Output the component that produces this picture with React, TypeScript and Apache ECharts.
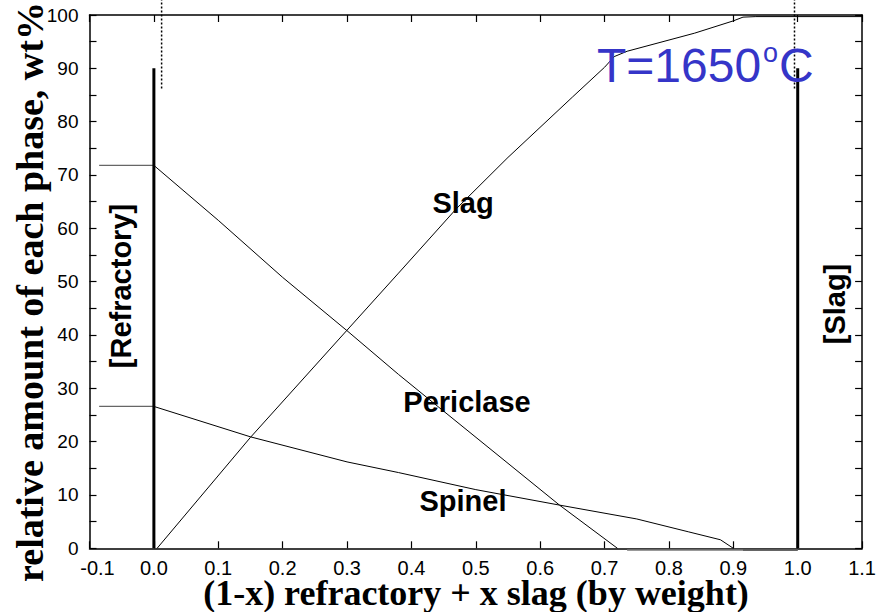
import React, { useEffect, useRef } from "react";
import * as echarts from "echarts";

// ---- data ----
const slagX = [0.005, 0.15, 0.3, 0.38, 0.47, 0.55, 0.65, 0.7, 0.715, 0.735, 0.84, 0.9, 0.915, 0.935, 1.1];
const slagY = [0, 20.8, 40.9, 51.6, 63.7, 73.3, 84.6, 90.2, 92.2, 93.2, 96.6, 98.9, 99.6, 99.7, 99.7];

const periclaseX = [0, 0.1, 0.2, 0.3, 0.38, 0.44, 0.63, 0.72];
const periclaseY = [71.8, 61.5, 50.8, 40.8, 32.6, 26.7, 8.1, 0];

const spinelX = [0, 0.15, 0.3, 0.38, 0.5, 0.63, 0.75, 0.83, 0.88, 0.9];
const spinelY = [26.6, 20.9, 16.2, 14.2, 11.0, 8.1, 5.5, 3.1, 1.6, 0];

// starting composition stubs (x from stubStart to 0)
const stubX = [-0.085, 0];
const periclaseStub = [71.8, 71.8];
const spinelStub = [26.6, 26.6];

// zero tails after phases vanish
const periclaseTailX = [0.735, 1.0];
const spinelTailX = [0.915, 1.0];
const tailY = [-0.3, -0.3];

// end-member boundaries
const boundaryX = [0, 1.0];
const boundaryY = [0, 90];
const dottedX = [0.012, 0.995];
const dottedY = [86.2, 102.8];

const xMin = -0.1;
const xMax = 1.1;
const yMin = 0;
const yMax = 100;

const zip = (xs: number[], ys: number[]) => xs.map((x, i) => [x, ys[i]]);

export default function App() {
  const ref = useRef<HTMLDivElement>(null);
  useEffect(() => {
    if (!ref.current) return;
    const chart = echarts.init(ref.current, undefined, { renderer: "svg" });
    const sans = "Liberation Sans, Arial, sans-serif";
    const serif = "Liberation Serif, Times New Roman, serif";

    const xLabelFmt = (v: number) => {
      const r = Math.round(v * 10) / 10;
      const s = Math.abs(r) < 1e-9 ? "0.0" : r.toFixed(1);
      return r < 0 ? "{m|" + s + "}" : s;
    };

    const baseX = {
      type: "value",
      min: xMin,
      max: xMax,
      interval: 0.1,
      splitLine: { show: false },
      axisLine: { onZero: false, lineStyle: { color: "#000", width: 1.5 } },
      axisTick: { inside: true, length: 7, lineStyle: { color: "#000", width: 1.2 } },
    };
    const baseY = {
      type: "value",
      min: yMin,
      max: yMax,
      interval: 10,
      splitLine: { show: false },
      axisLine: { onZero: false, lineStyle: { color: "#000", width: 1.5 } },
      axisTick: { inside: true, length: 7, lineStyle: { color: "#000", width: 1.2 } },
      minorTick: { show: true, splitNumber: 2, length: 7, lineStyle: { color: "#000", width: 1.2 } },
    };

    const line = (name: string, data: number[][], color: string, width: number, extra: any = {}) => ({
      name,
      type: "line",
      data,
      symbol: "none",
      showSymbol: false,
      lineStyle: { color, width, ...(extra.lineStyle || {}) },
      clip: false,
      z: extra.z ?? 3,
      silent: true,
    });

    chart.setOption({
      animation: false,
      backgroundColor: "#fff",
      grid: { left: 89.5, right: 12.5, top: 15, bottom: 63.7, containLabel: false },
      xAxis: [
        {
          ...baseX,
          position: "bottom",
          axisLabel: {
            show: true,
            interval: 0,
            showMinLabel: true,
            showMaxLabel: true,
            hideOverlap: false,
            fontSize: 20,
            fontFamily: sans,
            color: "#000",
            margin: 10,
            formatter: xLabelFmt,
            rich: { m: { fontSize: 20, fontFamily: sans, color: "#000", padding: [0, 0, 0, 16] } },
          },
        },
        { ...baseX, position: "top", axisLabel: { show: false } },
      ],
      yAxis: [
        {
          ...baseY,
          position: "left",
          axisLabel: {
            show: true,
            fontSize: 19,
            fontFamily: sans,
            color: "#000",
            margin: 11,
            showMinLabel: true,
            showMaxLabel: true,
          },
        },
        { ...baseY, position: "right", axisLabel: { show: false } },
      ],
      series: [
        line("Slag", zip(slagX, slagY), "#000", 1),
        line("Periclase", zip(periclaseX, periclaseY), "#000", 1),
        line("Spinel", zip(spinelX, spinelY), "#000", 1),
        line("Periclase start", zip(stubX, periclaseStub), "#666", 1.3),
        line("Spinel start", zip(stubX, spinelStub), "#666", 1.3),
        line("Periclase zero", zip(periclaseTailX, tailY), "#777", 1.5),
        line("Spinel zero", zip(spinelTailX, tailY), "#555", 1.5),
        line("Refractory boundary", zip([boundaryX[0], boundaryX[0]], boundaryY), "#000", 3, { z: 4 }),
        line("Slag boundary", zip([boundaryX[1], boundaryX[1]], boundaryY), "#000", 3, { z: 4 }),
        line("Refractory dotted", zip([dottedX[0], dottedX[0]], dottedY), "#000", 1.5, { lineStyle: { type: [2, 2] } }),
        line("Slag dotted", zip([dottedX[1], dottedX[1]], dottedY), "#000", 1.5, { lineStyle: { type: [2, 2] } }),
      ],
      graphic: [
        {
          type: "text",
          x: 30,
          y: 292,
          rotation: Math.PI / 2,
          style: {
            text: "relative amount of each phase, wt%",
            font: "bold 38px " + serif,
            fill: "#000",
            textAlign: "center",
            textVerticalAlign: "middle",
          },
        },
        {
          type: "text",
          x: 476,
          y: 593,
          style: {
            text: "(1-x) refractory + x slag (by weight)",
            font: "bold 36px " + serif,
            fill: "#000",
            textAlign: "center",
            textVerticalAlign: "middle",
          },
        },
        {
          type: "text",
          x: 463,
          y: 203,
          style: { text: "Slag", font: "bold 29px " + sans, fill: "#000", textAlign: "center", textVerticalAlign: "middle" },
        },
        {
          type: "text",
          x: 467,
          y: 402,
          style: { text: "Periclase", font: "bold 29px " + sans, fill: "#000", textAlign: "center", textVerticalAlign: "middle" },
        },
        {
          type: "text",
          x: 463,
          y: 501,
          style: { text: "Spinel", font: "bold 29px " + sans, fill: "#000", textAlign: "center", textVerticalAlign: "middle" },
        },
        {
          type: "text",
          x: 121,
          y: 286,
          rotation: Math.PI / 2,
          style: { text: "[Refractory]", font: "bold 29px " + sans, fill: "#000", textAlign: "center", textVerticalAlign: "middle" },
        },
        {
          type: "text",
          x: 835,
          y: 304,
          rotation: Math.PI / 2,
          style: { text: "[Slag]", font: "bold 29px " + sans, fill: "#000", textAlign: "center", textVerticalAlign: "middle" },
        },
        {
          type: "text",
          x: 597,
          y: 65.4,
          z: 10,
          style: { text: "T=1650", font: "48px " + sans, fill: "#3535c8", textAlign: "left", textVerticalAlign: "middle" },
        },
        {
          type: "text",
          x: 763,
          y: 52.6,
          z: 10,
          style: { text: "o", font: "27px " + sans, fill: "#3535c8", textAlign: "left", textVerticalAlign: "middle" },
        },
        {
          type: "text",
          x: 779,
          y: 65.4,
          z: 10,
          style: { text: "C", font: "48px " + sans, fill: "#3535c8", textAlign: "left", textVerticalAlign: "middle" },
        },
      ],
    });
    return () => chart.dispose();
  }, []);
  return (
    <div
      ref={ref}
      style={{ position: "fixed", left: 0, top: 0, width: 879, height: 612, background: "#fff" }}
    />
  );
}
